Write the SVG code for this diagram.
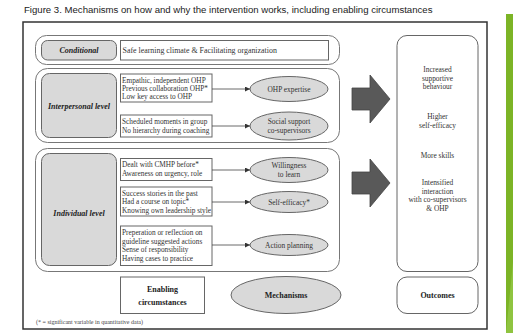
<svg xmlns="http://www.w3.org/2000/svg" width="513" height="333" viewBox="0 0 513 333">
<style>
.title{font-family:"Liberation Sans",Arial,sans-serif;font-size:9.6px;fill:#222}
.t{font-family:"Liberation Serif","Times New Roman",serif;font-size:7.3px;fill:#333}
.ts{font-family:"Liberation Serif","Times New Roman",serif;font-size:7.9px;fill:#333}
.tc{font-family:"Liberation Serif","Times New Roman",serif;font-size:7.4px;fill:#333;text-anchor:middle}
.lvl{font-family:"Liberation Serif","Times New Roman",serif;font-size:8px;font-weight:bold;font-style:italic;fill:#222;text-anchor:middle}
.leg{font-family:"Liberation Serif","Times New Roman",serif;font-size:8px;font-weight:bold;fill:#222;text-anchor:middle}
.note{font-family:"Liberation Serif","Times New Roman",serif;font-size:6px;fill:#444}
.grp{fill:#fff;stroke:#777;stroke-width:1}
.gbox{fill:#d9d9d9;stroke:#666;stroke-width:1}
.box{fill:#fff;stroke:#666;stroke-width:1}
.ell{fill:#d9d9d9;stroke:#666;stroke-width:1}
.con{stroke:#444;stroke-width:0.8;fill:none}
.big{fill:#595959;stroke:#444;stroke-width:0.8}
</style>
<defs>
<marker id="ah" viewBox="0 0 6 6" refX="6" refY="3" markerWidth="5" markerHeight="5" orient="auto" markerUnits="userSpaceOnUse">
<path d="M0,0 L6,3 L0,6 z" fill="#333"/>
</marker>
</defs>
<rect x="0" y="0" width="513" height="333" fill="#fff"/>
<g id="green-bar">
<rect x="506" y="14" width="7" height="319" fill="#7cb426"/>
<polygon points="506,333 513,262 513,333" fill="#8fc440"/>
</g>
<text class="title" x="24" y="13">Figure 3. Mechanisms on how and why the intervention works, including enabling circumstances</text>
<rect id="frame" x="23" y="22" width="464" height="307" fill="none" stroke="#333" stroke-width="1.5"/>

<g id="conditional-group">
<rect class="grp" x="35.5" y="35.5" width="304" height="29" rx="11"/>
<rect class="gbox" x="41.5" y="40.5" width="75" height="19.5" rx="6"/>
<text class="lvl" x="79" y="53">Conditional</text>
<rect class="box" x="120.5" y="40.5" width="208" height="19.5"/>
<text class="ts" x="122.5" y="53">Safe learning climate &amp; Facilitating organization</text>
</g>

<g id="interpersonal-group">
<rect class="grp" x="35.5" y="68.5" width="304" height="74" rx="12"/>
<rect class="gbox" x="41.5" y="73.5" width="75" height="64" rx="8"/>
<text class="lvl" x="79" y="108.5">Interpersonal level</text>
</g>
<g id="ip-text-1">
<rect class="box" x="120.5" y="74" width="91.5" height="28"/>
<text class="t" x="122" y="82.5">Empathic, independent OHP</text>
<text class="t" x="122" y="90.5">Previous collaboration OHP*</text>
<text class="t" x="122" y="98.5">Low key access to OHP</text>
</g>
<g id="ip-text-2">
<rect class="box" x="120.5" y="115" width="91.5" height="22"/>
<text class="t" x="122" y="124">Scheduled moments in group</text>
<text class="t" x="122" y="132.5">No hierarchy during coaching</text>
</g>
<g id="ohp-expertise">
<ellipse class="ell" cx="289" cy="89" rx="39" ry="12.5"/>
<text class="tc" x="289" y="91.5">OHP expertise</text>
</g>
<g id="social-support">
<ellipse class="ell" cx="289" cy="126" rx="39" ry="14"/>
<text class="tc" x="289" y="123.5">Social support</text>
<text class="tc" x="289" y="132.5">co-supervisors</text>
</g>

<g id="individual-group">
<rect class="grp" x="35.5" y="148.5" width="304" height="123" rx="12"/>
<rect class="gbox" x="41.5" y="153.5" width="75" height="112" rx="8"/>
<text class="lvl" x="79" y="216">Individual level</text>
</g>
<g id="ind-text-1">
<rect class="box" x="120.5" y="158.5" width="91.5" height="22"/>
<text class="t" x="122" y="167">Dealt with CMHP before*</text>
<text class="t" x="122" y="175.5">Awareness on urgency, role</text>
</g>
<g id="ind-text-2">
<rect class="box" x="120.5" y="187" width="91.5" height="29"/>
<text class="t" x="122" y="195.5">Success stories in the past</text>
<text class="t" x="122" y="204">Had a course on topic*</text>
<text class="t" x="122" y="212.5">Knowing own leadership style</text>
</g>
<g id="ind-text-3">
<rect class="box" x="120.5" y="226" width="91.5" height="39.5"/>
<text class="t" x="122" y="235">Preperation or reflection on</text>
<text class="t" x="122" y="243.5">guideline suggested actions</text>
<text class="t" x="122" y="252">Sense of responsibility</text>
<text class="t" x="122" y="260.5">Having cases to practice</text>
</g>
<g id="willingness">
<ellipse class="ell" cx="289" cy="170" rx="39" ry="12.5"/>
<text class="tc" x="289" y="167.5">Willingness</text>
<text class="tc" x="289" y="176.5">to learn</text>
</g>
<g id="self-efficacy">
<ellipse class="ell" cx="289" cy="202" rx="39" ry="10.5"/>
<text class="tc" x="289" y="204.5">Self-efficacy*</text>
</g>
<g id="action-planning">
<ellipse class="ell" cx="289" cy="245" rx="39" ry="10.5"/>
<text class="tc" x="289" y="247.5">Action planning</text>
</g>

<g id="outcomes-box">
<rect class="box" x="397" y="35.5" width="81" height="236" rx="10"/>
<text class="tc" x="437.5" y="72">Increased</text>
<text class="tc" x="437.5" y="80.5">supportive</text>
<text class="tc" x="437.5" y="89">behaviour</text>
<text class="tc" x="437.5" y="119">Higher</text>
<text class="tc" x="437.5" y="127.5">self-efficacy</text>
<text class="tc" x="437.5" y="158">More skills</text>
<text class="tc" x="437.5" y="185">Intensified</text>
<text class="tc" x="437.5" y="193.5">interaction</text>
<text class="tc" x="437.5" y="202">with co-supervisors</text>
<text class="tc" x="437.5" y="210.5">&amp; OHP</text>
</g>

<g id="connectors">
<line class="con" x1="212" y1="89" x2="250" y2="89" marker-end="url(#ah)"/>
<line class="con" x1="212" y1="126" x2="250" y2="126" marker-end="url(#ah)"/>
<line class="con" x1="212" y1="170" x2="250" y2="170" marker-end="url(#ah)"/>
<line class="con" x1="212" y1="202" x2="250" y2="202" marker-end="url(#ah)"/>
<line class="con" x1="212" y1="245" x2="250" y2="245" marker-end="url(#ah)"/>
<polygon class="big" points="352,88 370,88 370,75 390,99 370,123 370,110 352,110"/>
<polygon class="big" points="352,172 370,172 370,159 390,183 370,207 370,194 352,194"/>
</g>

<g id="legend-enabling">
<rect class="box" x="120.5" y="277" width="84" height="36.5"/>
<text class="leg" x="162.5" y="292">Enabling</text>
<text class="leg" x="162.5" y="305">circumstances</text>
</g>
<g id="legend-mechanisms">
<ellipse class="ell" cx="286" cy="295" rx="55" ry="18.5"/>
<text class="leg" x="286" y="298">Mechanisms</text>
</g>
<g id="legend-outcomes">
<rect class="box" x="397" y="277" width="81" height="36.5" rx="10"/>
<text class="leg" x="437.5" y="298">Outcomes</text>
</g>
<text class="note" x="36" y="324">(* = significant variable in quantitative data)</text>
</svg>
